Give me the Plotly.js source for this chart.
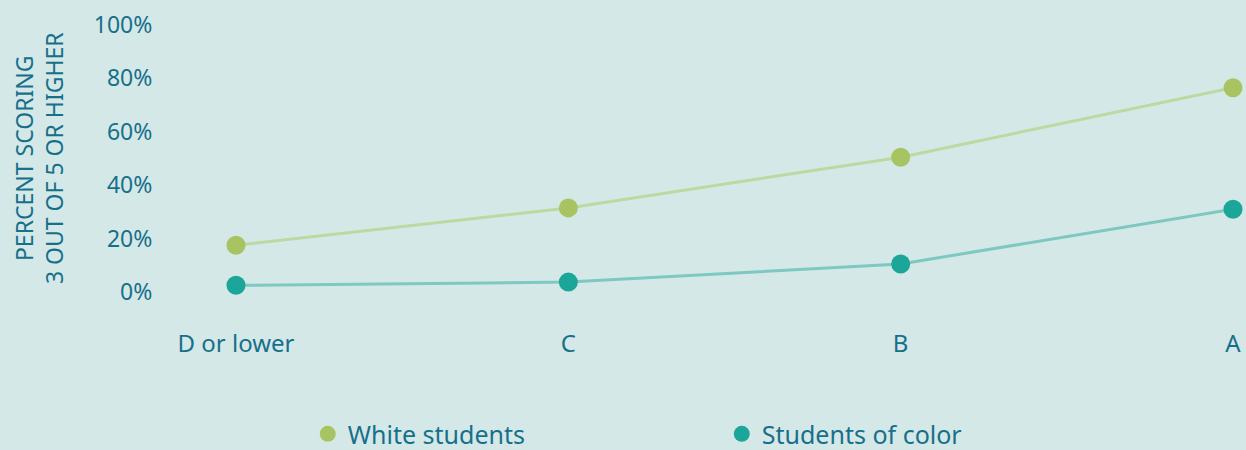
<!DOCTYPE html>
<html>
<head>
<meta charset="utf-8">
<script src="https://cdn.plot.ly/plotly-3.0.1.min.js"></script>
<style>html,body{margin:0;padding:0;background:#d5e8e8;}#chart{width:1246px;height:450px;}</style>
</head>
<body>
<div id="chart"></div>
<script>
var categories = ["D or lower", "C", "B", "A"];
var whiteStudents = [17.5, 31.5, 50.5, 76.5];
var studentsOfColor = [2.5, 3.7, 10.5, 31];
var yTickVals = [0, 20, 40, 60, 80, 100];
var yTickText = ["0%", "20%", "40%", "60%", "80%", "100%"];
var seriesNames = ["White students", "Students of color"];

var textColor = "#17708a";
var fontFam = "Noto Sans, sans-serif";

var traces = [
  {x: categories, y: whiteStudents, type: "scatter", mode: "lines", line: {color: "#bcd9a2", width: 3}, showlegend: false, hoverinfo: "skip", cliponaxis: false},
  {x: categories, y: studentsOfColor, type: "scatter", mode: "lines", line: {color: "#7dc8c1", width: 3}, showlegend: false, hoverinfo: "skip", cliponaxis: false},
  {x: categories, y: whiteStudents, type: "scatter", mode: "markers", name: seriesNames[0], marker: {color: "#a8c462", size: 19}, cliponaxis: false},
  {x: categories, y: studentsOfColor, type: "scatter", mode: "markers", name: seriesNames[1], marker: {color: "#1ba699", size: 19}, cliponaxis: false}
];

var layout = {
  width: 1246, height: 450,
  paper_bgcolor: "#d5e8e8", plot_bgcolor: "#d5e8e8",
  margin: {l: 236, r: 13, t: 25, b: 158, autoexpand: false},
  font: {family: fontFam, color: textColor, size: 22},
  showlegend: true,
  legend: {orientation: "h", x: 0.072, xanchor: "left", y: -0.532, yanchor: "middle",
           entrywidth: 369, entrywidthmode: "pixels", font: {size: 25, color: textColor, family: fontFam},
           itemsizing: "trace", bgcolor: "rgba(0,0,0,0)", traceorder: "normal"},
  xaxis: {type: "category", range: [0, 3], showgrid: false, zeroline: false, showline: false,
          ticks: "outside", ticklen: 30, tickcolor: "rgba(0,0,0,0)",
          tickfont: {size: 24, color: textColor, family: fontFam}, fixedrange: true},
  yaxis: {range: [0, 100], tickvals: yTickVals, ticktext: yTickText, showgrid: false, zeroline: false, showline: false,
          ticks: "outside", ticklen: 78, tickcolor: "rgba(0,0,0,0)",
          tickfont: {size: 23, color: textColor, family: fontFam}, fixedrange: true},
  annotations: [{
    text: "PERCENT SCORING<br>3 OUT OF 5 OR HIGHER", xref: "paper", yref: "paper",
    x: -0.198, y: 0.5, xanchor: "center", yanchor: "middle", textangle: -90, showarrow: false,
    font: {size: 23, color: textColor, family: fontFam}, align: "center"
  }]
};

Plotly.newPlot("chart", traces, layout, {displayModeBar: false, staticPlot: true});
</script>
</body>
</html>
